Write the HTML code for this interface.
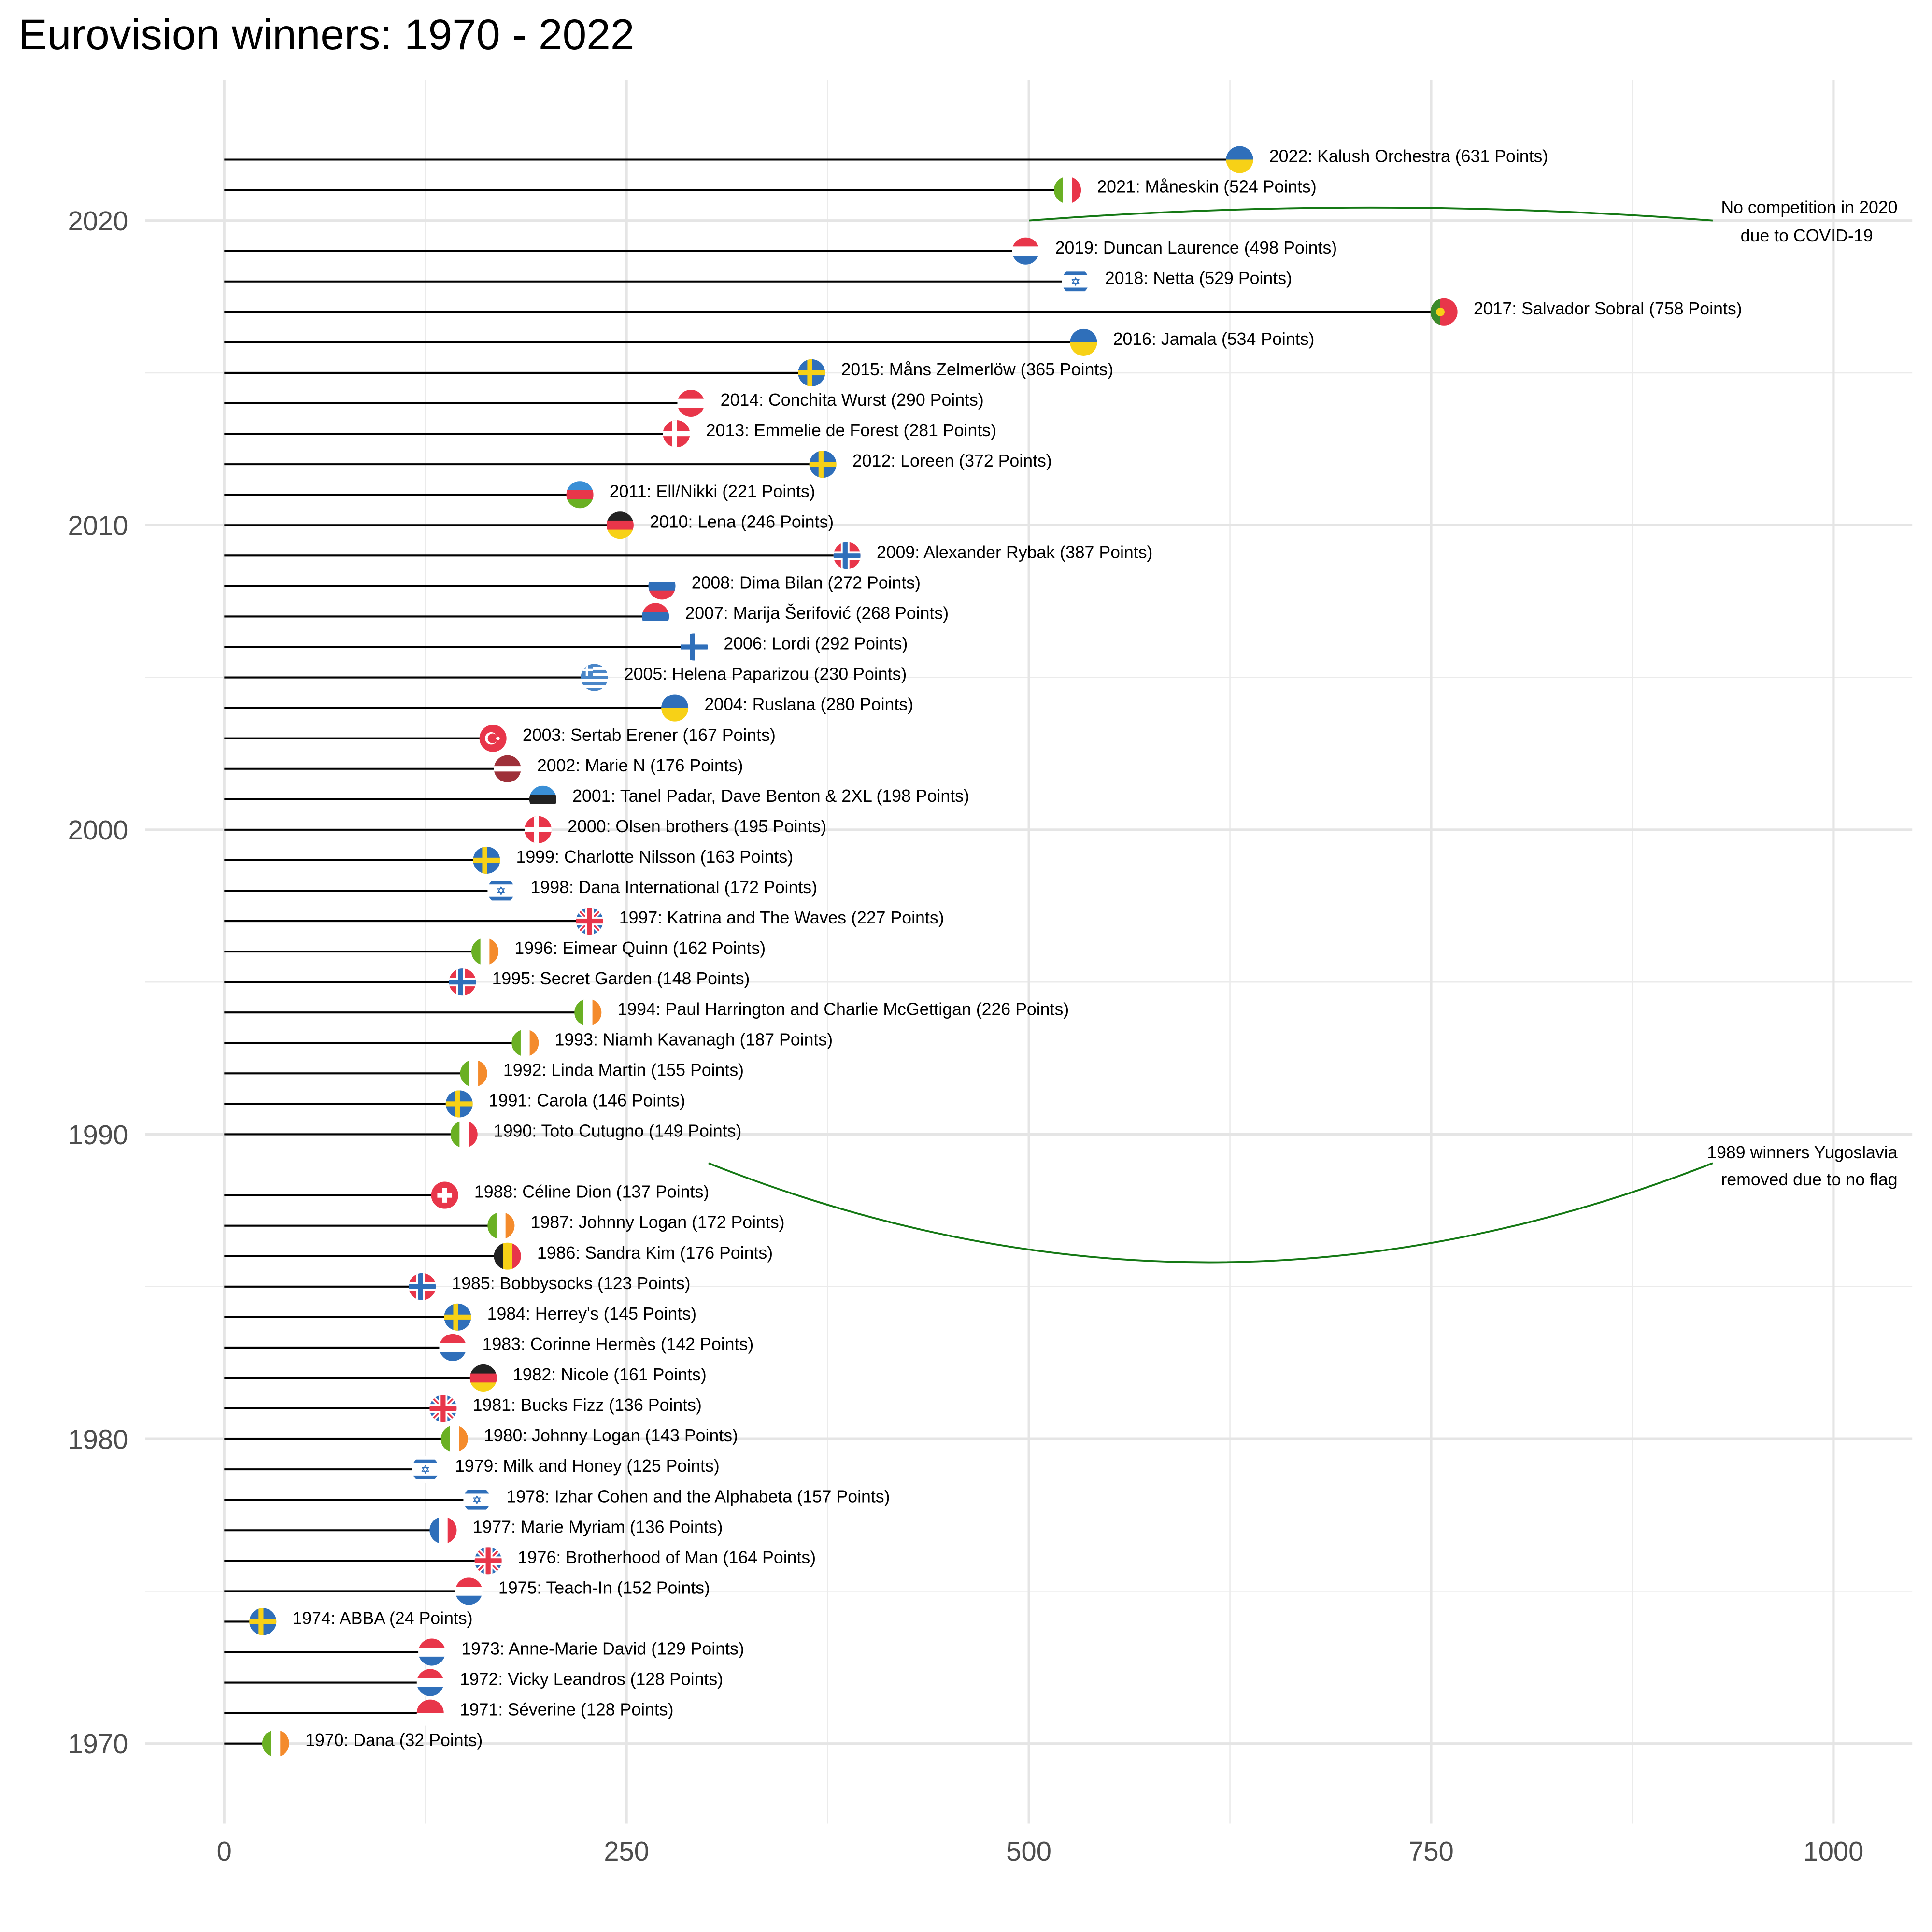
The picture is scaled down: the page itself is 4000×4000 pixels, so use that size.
<!DOCTYPE html>
<html><head><meta charset="utf-8"><style>
html,body{margin:0;padding:0;background:#fff}
svg{display:block}
text{font-family:"Liberation Sans",sans-serif}
</style></head><body>
<svg id="chart" width="4000" height="4000" viewBox="0 0 1568 1568" xmlns="http://www.w3.org/2000/svg">
<text x="15" y="40" font-size="35" fill="#000">Eurovision winners: 1970 - 2022</text>
<g id="grid"></g>
<g id="axes"></g>
<g id="marks"></g>
<g id="notes">
<path d="M835,179 Q1112,158 1390,179" fill="none" stroke="#147814" stroke-width="1.5"/>
<text x="1540" y="173" font-size="14" text-anchor="end">No competition in 2020</text>
<text x="1520" y="196" font-size="14" text-anchor="end">due to COVID-19</text>
<path d="M575,944 Q980,1105 1390,944" fill="none" stroke="#147814" stroke-width="1.5"/>
<text x="1540" y="940" font-size="14" text-anchor="end">1989 winners Yugoslavia</text>
<text x="1540" y="962" font-size="14" text-anchor="end">removed due to no flag</text>
</g>
</svg>
<script>
const years=[1970,1971,1972,1973,1974,1975,1976,1977,1978,1979,1980,1981,1982,1983,1984,1985,1986,1987,1988,1990,1991,1992,1993,1994,1995,1996,1997,1998,1999,2000,2001,2002,2003,2004,2005,2006,2007,2008,2009,2010,2011,2012,2013,2014,2015,2016,2017,2018,2019,2021,2022];
const points=[32,128,128,129,24,152,164,136,157,125,143,136,161,142,145,123,176,172,137,149,146,155,187,226,148,162,227,172,163,195,198,176,167,280,230,292,268,272,387,246,221,372,281,290,365,534,758,529,498,524,631];
const artists=["Dana","Séverine","Vicky Leandros","Anne-Marie David","ABBA","Teach-In","Brotherhood of Man","Marie Myriam","Izhar Cohen and the Alphabeta","Milk and Honey","Johnny Logan","Bucks Fizz","Nicole","Corinne Hermès","Herrey's","Bobbysocks","Sandra Kim","Johnny Logan","Céline Dion","Toto Cutugno","Carola","Linda Martin","Niamh Kavanagh","Paul Harrington and Charlie McGettigan","Secret Garden","Eimear Quinn","Katrina and The Waves","Dana International","Charlotte Nilsson","Olsen brothers","Tanel Padar, Dave Benton & 2XL","Marie N","Sertab Erener","Ruslana","Helena Paparizou","Lordi","Marija Šerifović","Dima Bilan","Alexander Rybak","Lena","Ell/Nikki","Loreen","Emmelie de Forest","Conchita Wurst","Måns Zelmerlöw","Jamala","Salvador Sobral","Netta","Duncan Laurence","Måneskin","Kalush Orchestra"];
const countries=["IE","MC","LU","LU","SE","NL","GB","FR","IL","IL","IE","GB","DE","LU","SE","NO","BE","IE","CH","IT","SE","IE","IE","IE","NO","IE","GB","IL","SE","DK","EE","LV","TR","UA","GR","FI","RS","RU","NO","DE","AZ","SE","DK","AT","SE","UA","PT","IL","NL","IT","UA"];
const xTicks=[0,250,500,750,1000];
const yTicks=[1970,1980,1990,2000,2010,2020];

const NS="http://www.w3.org/2000/svg";
const X=v=>182+v*(1488-182)/1000;
const Y=y=>1415-(y-1970)*(1415-179)/50;
function mk(tag,attrs,parent){const e=document.createElementNS(NS,tag);for(const k in attrs)e.setAttribute(k,attrs[k]);parent.appendChild(e);return e;}
const grid=document.getElementById('grid'),axes=document.getElementById('axes'),marks=document.getElementById('marks');
for(let v=125;v<1100;v+=250){const l=mk('line',{x1:X(v),x2:X(v),y1:65,y2:1480,stroke:'#ebebeb','stroke-width':1},grid);

}
for(let y=1975;y<2025;y+=10){const l=mk('line',{x1:118,x2:1552,y1:Y(y),y2:Y(y),stroke:'#ebebeb','stroke-width':1},grid);

}
xTicks.forEach(v=>{const l=mk('line',{x1:X(v),x2:X(v),y1:65,y2:1480,stroke:'#e5e5e5','stroke-width':2},grid);


const t=mk('text',{x:X(v),y:1510,'font-size':22,fill:'#4d4d4d','text-anchor':'middle'},axes);t.textContent=v;

});
yTicks.forEach(y=>{const l=mk('line',{x1:118,x2:1552,y1:Y(y),y2:Y(y),stroke:'#e5e5e5','stroke-width':2},grid);


const t=mk('text',{x:104,y:Y(y)+8,'font-size':22,fill:'#4d4d4d','text-anchor':'end'},axes);t.textContent=y;

});

const R='#e8364a',B='#2f6fba',W='#ffffff',Yl='#f7d117',G='#6ab023',O='#f48b2c',K='#222';
const flags={IE:{t:'v',c:[G,W,O]},MC:{t:'h',c:[R,W]},LU:{t:'h',c:[R,W,B]},SE:{t:'x',bg:'#2f6fba',cr:Yl},NL:{t:'h',c:[R,W,B]},
GB:{t:'uk'},FR:{t:'v',c:[B,W,R]},IL:{t:'il'},DE:{t:'h',c:[K,R,Yl]},NO:{t:'x',bg:R,cr:B,out:W},BE:{t:'v',c:[K,Yl,R]},
CH:{t:'ch'},IT:{t:'v',c:[G,W,R]},DK:{t:'x',bg:R,cr:W},EE:{t:'h',c:['#3a8fd6',K,W]},LV:{t:'h',c:['#9e3039','#9e3039',W,'#9e3039','#9e3039']},
TR:{t:'tr'},UA:{t:'h',c:[B,Yl]},GR:{t:'gr'},FI:{t:'x',bg:W,cr:B},RS:{t:'h',c:[R,B,W]},RU:{t:'h',c:[W,B,R]},AZ:{t:'h',c:['#3a8fd6',R,G]},
AT:{t:'h',c:[R,W,R]},PT:{t:'pt'}};
const defs=mk('defs',{},document.getElementById('chart'));
function drawFlag(g,cx,cy,code,i){
 const r=11,f=flags[code];
 const cp=mk('clipPath',{id:'cp'+i},defs);mk('circle',{cx,cy,r},cp);
 const h=mk('g',{'clip-path':'url(#cp'+i+')'},g);
 const x0=cx-r,y0=cy-r,s=2*r;
 if(f.t==='h'){const n=f.c.length;f.c.forEach((c,k)=>mk('rect',{x:x0,y:y0+k*s/n,width:s,height:s/n+0.3,fill:c},h));}
 else if(f.t==='v'){const n=f.c.length;f.c.forEach((c,k)=>mk('rect',{x:x0+k*s/n,y:y0,width:s/n+0.3,height:s,fill:c},h));}
 else if(f.t==='x'){mk('rect',{x:x0,y:y0,width:s,height:s,fill:f.bg},h);
  if(f.out){mk('rect',{x:cx-5,y:y0,width:7,height:s,fill:f.out},h);mk('rect',{x:x0,y:cy-3.5,width:s,height:7,fill:f.out},h);}
  mk('rect',{x:cx-3.5,y:y0,width:4,height:s,fill:f.cr},h);mk('rect',{x:x0,y:cy-2,width:s,height:4,fill:f.cr},h);}
 else if(f.t==='uk'){mk('rect',{x:x0,y:y0,width:s,height:s,fill:B},h);
  mk('path',{d:`M${x0},${y0}L${x0+s},${y0+s}M${x0+s},${y0}L${x0},${y0+s}`,stroke:W,'stroke-width':4},h);
  mk('path',{d:`M${x0},${y0}L${x0+s},${y0+s}M${x0+s},${y0}L${x0},${y0+s}`,stroke:R,'stroke-width':1.5},h);
  mk('rect',{x:cx-3.5,y:y0,width:7,height:s,fill:W},h);mk('rect',{x:x0,y:cy-3.5,width:s,height:7,fill:W},h);
  mk('rect',{x:cx-2,y:y0,width:4,height:s,fill:R},h);mk('rect',{x:x0,y:cy-2,width:s,height:4,fill:R},h);}
 else if(f.t==='il'){mk('rect',{x:x0,y:y0,width:s,height:s,fill:W},h);
  mk('rect',{x:x0,y:cy-8,width:s,height:3,fill:B},h);mk('rect',{x:x0,y:cy+5,width:s,height:3,fill:B},h);
  mk('path',{d:`M${cx},${cy-3}L${cx+2.6},${cy+1.5}L${cx-2.6},${cy+1.5}ZM${cx},${cy+3}L${cx+2.6},${cy-1.5}L${cx-2.6},${cy-1.5}Z`,fill:'none',stroke:B,'stroke-width':0.7},h);}
 else if(f.t==='ch'){mk('rect',{x:x0,y:y0,width:s,height:s,fill:R},h);
  mk('rect',{x:cx-2,y:cy-6,width:4,height:12,fill:W},h);mk('rect',{x:cx-6,y:cy-2,width:12,height:4,fill:W},h);}
 else if(f.t==='tr'){mk('rect',{x:x0,y:y0,width:s,height:s,fill:R},h);
  mk('circle',{cx:cx-1.5,cy,r:5,fill:W},h);mk('circle',{cx:cx-0.3,cy,r:4,fill:R},h);
  mk('circle',{cx:cx+4,cy,r:1.5,fill:W},h);}
 else if(f.t==='gr'){mk('rect',{x:x0,y:y0,width:s,height:s,fill:W},h);
  for(let k=0;k<9;k+=2)mk('rect',{x:x0,y:y0+k*s/9,width:s,height:s/9,fill:'#4a86c8'},h);
  mk('rect',{x:x0,y:y0,width:10,height:10,fill:'#4a86c8'},h);
  mk('rect',{x:x0+4,y:y0,width:2,height:10,fill:W},h);mk('rect',{x:x0,y:y0+4,width:10,height:2,fill:W},h);}
 else if(f.t==='pt'){mk('rect',{x:x0,y:y0,width:s,height:s,fill:R},h);mk('rect',{x:x0,y:y0,width:8,height:s,fill:'#3a8a2a'},h);
  mk('circle',{cx:x0+8,cy,r:3.5,fill:Yl},h);}
}
years.forEach((yr,i)=>{
 const g=mk('g',{},marks);
 
 
 const y=Y(yr),x=X(points[i]);
 const l=mk('line',{x1:X(0),x2:x,y1:y,y2:y,stroke:'#000','stroke-width':1.6},g);
 
 
 drawFlag(g,x,y,countries[i],i);
 const t=mk('text',{x:x+24,y:y+2,'font-size':14,fill:'#000'},g);
 t.textContent=yr+': '+artists[i]+' ('+points[i]+' Points)';
 
 
});
</script>
</body></html>
